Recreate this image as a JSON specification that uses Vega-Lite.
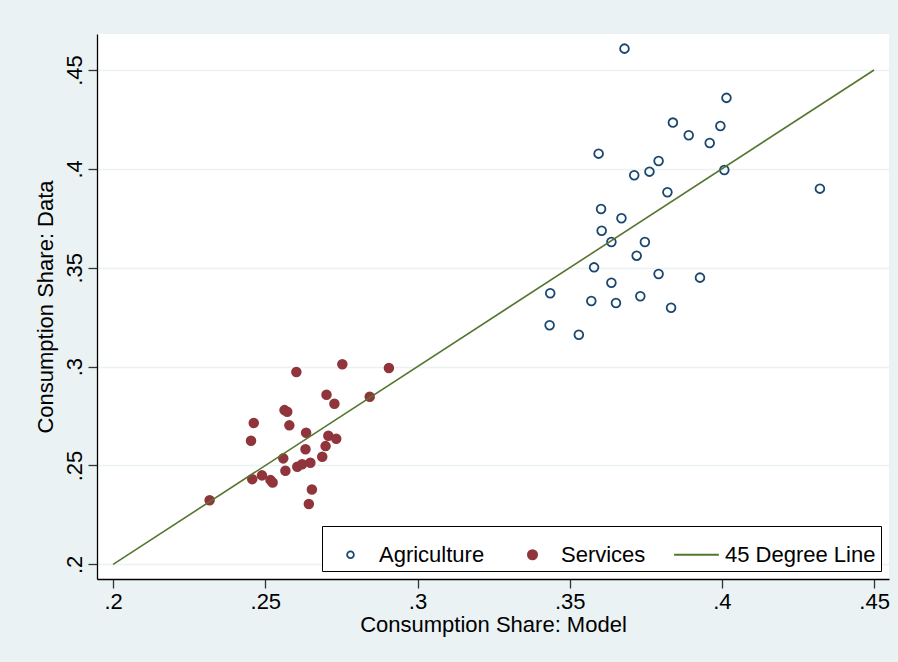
{
  "$schema": "https://vega.github.io/schema/vega-lite/v6.json",
  "description": "Consumption share, model vs data",
  "width": 792,
  "height": 545,
  "autosize": {"type": "none"},
  "padding": {"left": 97, "top": 34, "right": 9, "bottom": 83},
  "background": "#EAF2F3",
  "config": {
    "font": "Liberation Sans",
    "view": {"fill": "white", "stroke": null},
    "axis": {
      "labelFontSize": 22,
      "titleFontSize": 22,
      "titleFontWeight": "normal",
      "labelColor": "black",
      "titleColor": "black",
      "domainColor": "black",
      "domainWidth": 1.3,
      "tickColor": "#333333",
      "tickWidth": 1.3,
      "tickSize": 9,
      "gridColor": "#EAF2F3",
      "gridWidth": 1.5
    },
    "legend": {
      "labelFontSize": 22,
      "labelColor": "black",
      "labelLimit": 300
    }
  },
  "datasets": {
    "pts": [
      {"series": "Agriculture", "model": 0.3680, "data": 0.4608},
      {"series": "Agriculture", "model": 0.4015, "data": 0.4359},
      {"series": "Agriculture", "model": 0.3839, "data": 0.4234},
      {"series": "Agriculture", "model": 0.3995, "data": 0.4217},
      {"series": "Agriculture", "model": 0.3891, "data": 0.4170},
      {"series": "Agriculture", "model": 0.3960, "data": 0.4131},
      {"series": "Agriculture", "model": 0.3595, "data": 0.4077},
      {"series": "Agriculture", "model": 0.3792, "data": 0.4040},
      {"series": "Agriculture", "model": 0.3762, "data": 0.3986},
      {"series": "Agriculture", "model": 0.3712, "data": 0.3968},
      {"series": "Agriculture", "model": 0.4008, "data": 0.3994},
      {"series": "Agriculture", "model": 0.3821, "data": 0.3882},
      {"series": "Agriculture", "model": 0.4322, "data": 0.3900},
      {"series": "Agriculture", "model": 0.3603, "data": 0.3797},
      {"series": "Agriculture", "model": 0.3670, "data": 0.3750},
      {"series": "Agriculture", "model": 0.3605, "data": 0.3687},
      {"series": "Agriculture", "model": 0.3637, "data": 0.3630},
      {"series": "Agriculture", "model": 0.3747, "data": 0.3630},
      {"series": "Agriculture", "model": 0.3720, "data": 0.3561},
      {"series": "Agriculture", "model": 0.3580, "data": 0.3502},
      {"series": "Agriculture", "model": 0.3792, "data": 0.3468},
      {"series": "Agriculture", "model": 0.3928, "data": 0.3450},
      {"series": "Agriculture", "model": 0.3637, "data": 0.3424},
      {"series": "Agriculture", "model": 0.3436, "data": 0.3371},
      {"series": "Agriculture", "model": 0.3571, "data": 0.3332},
      {"series": "Agriculture", "model": 0.3652, "data": 0.3322},
      {"series": "Agriculture", "model": 0.3732, "data": 0.3356},
      {"series": "Agriculture", "model": 0.3833, "data": 0.3298},
      {"series": "Agriculture", "model": 0.3434, "data": 0.3209},
      {"series": "Agriculture", "model": 0.3530, "data": 0.3161},
      {"series": "Services", "model": 0.2317, "data": 0.2324},
      {"series": "Services", "model": 0.2602, "data": 0.2973},
      {"series": "Services", "model": 0.2753, "data": 0.3012},
      {"series": "Services", "model": 0.2906, "data": 0.2993},
      {"series": "Services", "model": 0.2701, "data": 0.2858},
      {"series": "Services", "model": 0.2843, "data": 0.2848},
      {"series": "Services", "model": 0.2727, "data": 0.2812},
      {"series": "Services", "model": 0.2563, "data": 0.2780},
      {"series": "Services", "model": 0.2572, "data": 0.2772},
      {"series": "Services", "model": 0.2462, "data": 0.2715},
      {"series": "Services", "model": 0.2579, "data": 0.2703},
      {"series": "Services", "model": 0.2634, "data": 0.2666},
      {"series": "Services", "model": 0.2453, "data": 0.2625},
      {"series": "Services", "model": 0.2707, "data": 0.2650},
      {"series": "Services", "model": 0.2733, "data": 0.2635},
      {"series": "Services", "model": 0.2632, "data": 0.2582},
      {"series": "Services", "model": 0.2698, "data": 0.2598},
      {"series": "Services", "model": 0.2559, "data": 0.2536},
      {"series": "Services", "model": 0.2687, "data": 0.2544},
      {"series": "Services", "model": 0.2605, "data": 0.2494},
      {"series": "Services", "model": 0.2621, "data": 0.2506},
      {"series": "Services", "model": 0.2648, "data": 0.2514},
      {"series": "Services", "model": 0.2566, "data": 0.2473},
      {"series": "Services", "model": 0.2457, "data": 0.2431},
      {"series": "Services", "model": 0.2489, "data": 0.2450},
      {"series": "Services", "model": 0.2517, "data": 0.2426},
      {"series": "Services", "model": 0.2524, "data": 0.2414},
      {"series": "Services", "model": 0.2653, "data": 0.2379},
      {"series": "Services", "model": 0.2643, "data": 0.2305}
    ],
    "diag": [
      {"model": 0.2, "data": 0.2},
      {"model": 0.45, "data": 0.45}
    ]
  },
  "encoding": {
    "x": {
      "field": "model",
      "type": "quantitative",
      "title": "Consumption Share: Model",
      "scale": {"domain": [0.1947, 0.4549], "nice": false, "zero": false},
      "axis": {
        "values": [0.2, 0.25, 0.3, 0.35, 0.4, 0.45],
        "labelExpr": "slice(format(datum.value, '.2~f'), 1)",
        "grid": false,
        "labelPadding": 3,
        "titlePadding": 2
      }
    },
    "y": {
      "field": "data",
      "type": "quantitative",
      "title": "Consumption Share: Data",
      "scale": {"domain": [0.1926, 0.4682], "nice": false, "zero": false},
      "axis": {
        "values": [0.2, 0.25, 0.3, 0.35, 0.4, 0.45],
        "labelExpr": "slice(format(datum.value, '.2~f'), 1)",
        "grid": true,
        "labelAngle": -90,
        "labelAlign": "center",
        "labelBaseline": "bottom",
        "labelPadding": 2,
        "titlePadding": 6
      }
    }
  },
  "layer": [
    {
      "data": {"name": "pts"},
      "mark": {"type": "point", "opacity": 1, "strokeWidth": 1.8, "size": 76},
      "encoding": {
        "stroke": {
          "field": "series",
          "type": "nominal",
          "scale": {
            "domain": ["Agriculture", "Services", "45 Degree Line"],
            "range": ["#1A476F", "#90353B", "#55752F"]
          },
          "legend": {
            "title": null,
            "orient": "bottom-right",
            "offset": 8,
            "direction": "horizontal",
            "columns": 3,
            "columnPadding": 24,
            "labelOffset": 5,
            "padding": 5,
            "strokeColor": "black",
            "fillColor": "white",
            "symbolSize": {"expr": "datum.label === 'Agriculture' ? 45 : datum.label === 'Services' ? 85 : 2000"},
            "symbolStrokeWidth": 1.8
          }
        },
        "fill": {
          "field": "series",
          "type": "nominal",
          "scale": {
            "domain": ["Agriculture", "Services", "45 Degree Line"],
            "range": ["transparent", "#90353B", "transparent"]
          },
          "legend": {"title": null}
        },
        "shape": {
          "field": "series",
          "type": "nominal",
          "scale": {
            "domain": ["Agriculture", "Services", "45 Degree Line"],
            "range": ["circle", "circle", "stroke"]
          },
          "legend": {"title": null}
        }
      }
    },
    {
      "data": {"name": "diag"},
      "mark": {"type": "line", "color": "#55752F", "strokeWidth": 1.6},
      "encoding": {}
    }
  ]
}
